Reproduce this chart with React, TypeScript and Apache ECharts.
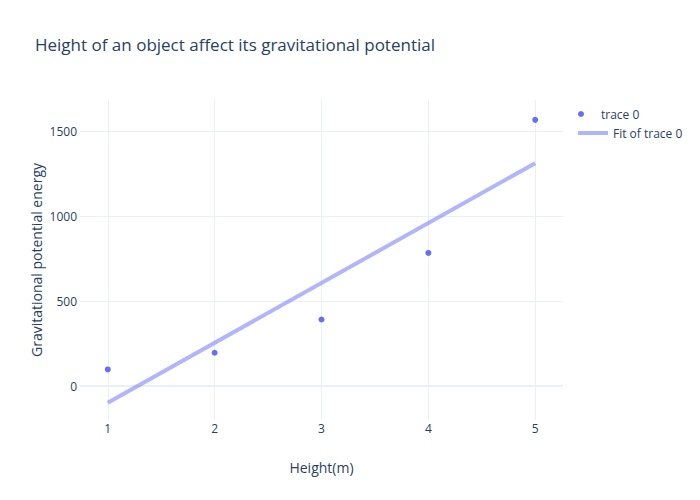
import React, { useEffect, useRef } from "react";
import * as echarts from "echarts";

const titleText = "Height of an object affect its gravitational potential";
const heights = [1, 2, 3, 4, 5];
const energy = [98, 196, 392, 784, 1568];
const fitX = [1, 5];
const fitY = [-98, 1313];
const yTicks = [0, 500, 1000, 1500];
const xTicks = [1, 2, 3, 4, 5];
const seriesNames = ["trace 0", "Fit of trace 0"];

const FONT = '"Open Sans", "Noto Sans", sans-serif';
const TEXT = "#2a3f5f";
const GRID = "#ebf0f8";

export default function App() {
  const ref = useRef<HTMLDivElement>(null);
  useEffect(() => {
    if (!ref.current) return;
    const chart = echarts.init(ref.current, undefined, { renderer: "svg" });
    const gridLines: any[] = [
      ...yTicks.map((v) => ({ yAxis: v, lineStyle: { width: v === 0 ? 2 : 1, color: GRID, type: "solid" } })),
      ...xTicks.map((v) => ({ xAxis: v, lineStyle: { width: 1, color: GRID, type: "solid" } })),
    ];
    chart.setOption({
      animation: false,
      backgroundColor: "#ffffff",
      textStyle: { fontFamily: FONT },
      title: {
        text: titleText,
        left: 30,
        top: 31,
        textStyle: { fontFamily: FONT, fontSize: 17, fontWeight: "normal", color: TEXT },
      },
      grid: { left: 80, top: 100, width: 483, height: 320, containLabel: false },
      legend: [
        {
          data: [{ name: seriesNames[0], icon: "circle" }],
          left: 573,
          top: 103,
          itemWidth: 30,
          itemHeight: 6,
          itemGap: 5,
          textStyle: { fontFamily: FONT, fontSize: 12, color: TEXT },
          selectedMode: false,
        },
        {
          data: [{ name: seriesNames[1], icon: "rect" }],
          left: 573,
          top: 122,
          itemWidth: 30,
          itemHeight: 4,
          textStyle: { fontFamily: FONT, fontSize: 12, color: TEXT },
          selectedMode: false,
        },
      ],
      xAxis: {
        type: "value",
        min: 0.74,
        max: 5.26,
        name: "Height(m)",
        nameLocation: "middle",
        nameGap: 40,
        nameMoveOverlap: false,
        nameTextStyle: { fontFamily: FONT, fontSize: 14, color: TEXT },
        axisLine: { show: false },
        axisTick: { show: false },
        splitLine: { show: false },
        axisLabel: { customValues: xTicks, fontFamily: FONT, fontSize: 12, color: TEXT, margin: 2 },
      },
      yAxis: {
        type: "value",
        min: -200,
        max: 1685,
        name: "Gravitational potential energy",
        nameLocation: "middle",
        nameGap: 37,
        nameMoveOverlap: false,
        nameTextStyle: { fontFamily: FONT, fontSize: 14, color: TEXT },
        axisLine: { show: false },
        axisTick: { show: false },
        splitLine: { show: false },
        axisLabel: {
          customValues: yTicks,
          formatter: (v: number) => String(v),
          fontFamily: FONT,
          fontSize: 12,
          color: TEXT,
          margin: 3,
        },
      },
      series: [
        {
          type: "line",
          name: "grid",
          data: [],
          z: 0,
          silent: true,
          markLine: {
            silent: true,
            symbol: ["none", "none"],
            label: { show: false },
            z: 0,
            data: gridLines,
          },
        },
        {
          type: "line",
          name: seriesNames[1],
          data: fitX.map((x, i) => [x, fitY[i]]),
          showSymbol: false,
          symbol: "none",
          lineStyle: { color: "rgba(99,110,250,0.5)", width: 4 },
          itemStyle: { color: "rgba(99,110,250,0.5)" },
          z: 2,
        },
        {
          type: "scatter",
          name: seriesNames[0],
          data: heights.map((x, i) => [x, energy[i]]),
          symbol: "circle",
          symbolSize: 6,
          itemStyle: { color: "#636efa", opacity: 1 },
          z: 3,
        },
      ],
    });
    return () => chart.dispose();
  }, []);
  return <div ref={ref} style={{ width: 700, height: 500, position: "absolute", left: 0, top: 0 }} />;
}
